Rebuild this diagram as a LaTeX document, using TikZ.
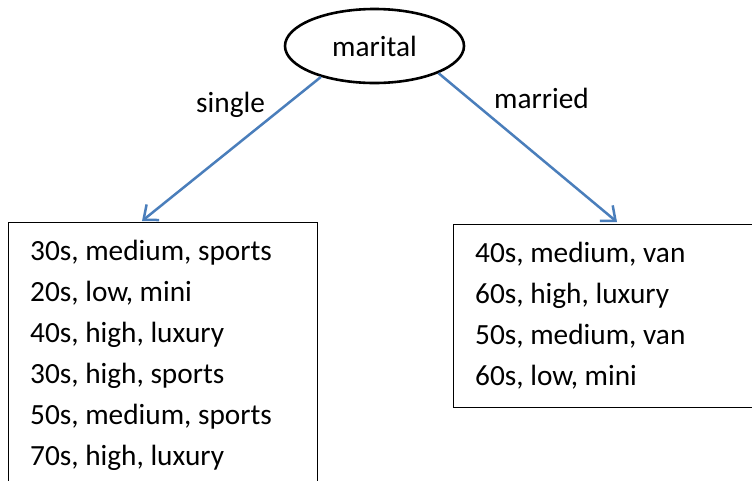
\documentclass[tikz,border=0pt]{standalone}
\usepackage{fontspec}
\setmainfont{Carlito}
\usetikzlibrary{shapes.geometric,arrows.meta}
\definecolor{arrowblue}{RGB}{74,126,187}
\begin{document}
\begin{tikzpicture}[x=1pt,y=-1pt,
  every node/.style={font=\fontsize{29.3}{41}\selectfont},
  rootnode/.style={ellipse,draw=black,line width=2.6pt,minimum width=179pt,minimum height=74pt,inner sep=0pt},
  leafbox/.style={draw=black,line width=1.4pt,anchor=north west,inner sep=0pt},
  branch/.style={draw=arrowblue,line width=2.5pt,-{Straight Barb[length=12pt,width=20pt]}},
  edgelabel/.style={anchor=base west,inner sep=0pt},
  rowtext/.style={anchor=base west,inner sep=0pt}]
\useasboundingbox (0,0) rectangle (752,480);
\clip (0,0) rectangle (752,480);
\fill[white] (0,0) rectangle (752,480);

\node[rootnode] (marital) at (374.5,46) {marital};

\node[leafbox,minimum width=309pt,minimum height=300pt] (lbox) at (8,222) {};
\node[leafbox,minimum width=340pt,minimum height=183pt] (rbox) at (453,224) {};

\coordinate (ltip) at (142,221);
\coordinate (rtip) at (617,222);

\draw[branch] (marital.210) -- (ltip);
\draw[branch] (marital.-23) -- (rtip);

\node[edgelabel] (single) at (196,112) {single};
\node[edgelabel] (married) at (494,108) {married};

\node[rowtext] (l1) at (30,260) {30s, medium, sports};
\node[rowtext] (l2) at (30,301) {20s, low, mini};
\node[rowtext] (l3) at (30,342) {40s, high, luxury};
\node[rowtext] (l4) at (30,383) {30s, high, sports};
\node[rowtext] (l5) at (30,424) {50s, medium, sports};
\node[rowtext] (l6) at (30,465) {70s, high, luxury};

\node[rowtext] (r1) at (475,262) {40s, medium, van};
\node[rowtext] (r2) at (475,303) {60s, high, luxury};
\node[rowtext] (r3) at (475,344) {50s, medium, van};
\node[rowtext] (r4) at (475,385) {60s, low, mini};
\end{tikzpicture}
\end{document}
